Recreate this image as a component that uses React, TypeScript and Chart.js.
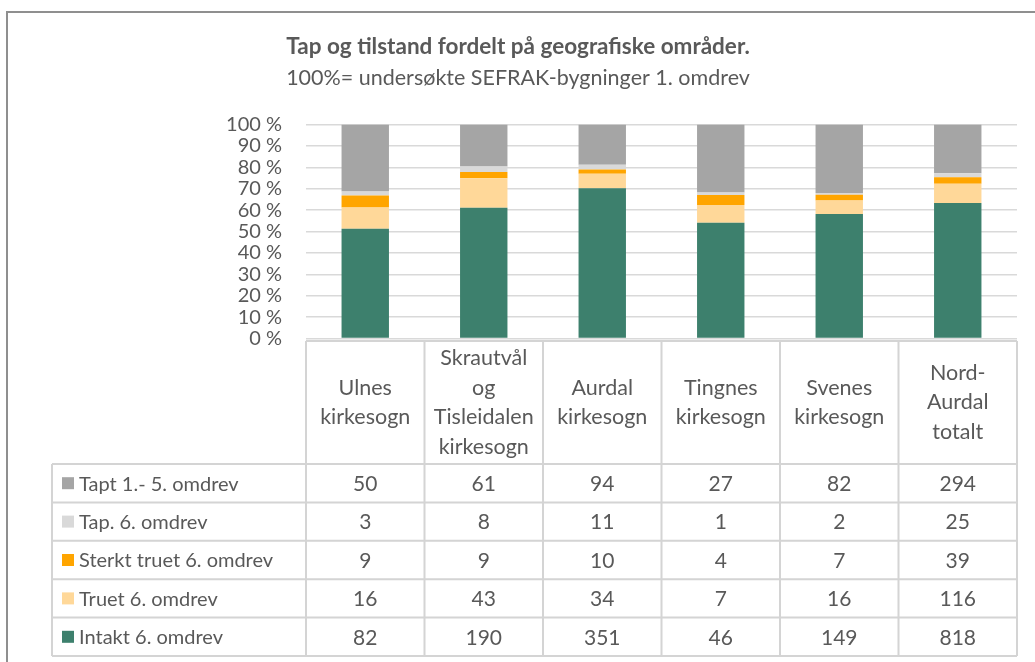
import React, { useEffect, useRef } from "react";
import { Chart, registerables } from "chart.js";
Chart.register(...registerables);

const titleText = "Tap og tilstand fordelt på geografiske områder.";
const subtitleText = "100%= undersøkte SEFRAK-bygninger 1. omdrev";

const categories: string[][] = [
  ["Ulnes", "kirkesogn"],
  ["Skrautvål", "og", "Tisleidalen", "kirkesogn"],
  ["Aurdal", "kirkesogn"],
  ["Tingnes", "kirkesogn"],
  ["Svenes", "kirkesogn"],
  ["Nord-", "Aurdal", "totalt"],
];

// counts per category
const intakt = [82, 190, 351, 46, 149, 818];
const truet = [16, 43, 34, 7, 16, 116];
const sterktTruet = [9, 9, 10, 4, 7, 39];
const tap6 = [3, 8, 11, 1, 2, 25];
const tapt15 = [50, 61, 94, 27, 82, 294];

const seriesNames = [
  "Intakt 6. omdrev",
  "Truet 6. omdrev",
  "Sterkt truet 6. omdrev",
  "Tap. 6. omdrev",
  "Tapt 1.- 5. omdrev",
];
const seriesColors = ["#3d806d", "#ffd899", "#ffa500", "#d9d9d9", "#a5a5a5"];
const seriesValues = [intakt, truet, sterktTruet, tap6, tapt15];

const yMax = 100;
const yStep = 10;

const FONT = "Lato, 'Noto Sans', sans-serif";
const TEXT = "#595959";

const totals = categories.map((_, i) =>
  seriesValues.reduce((s, arr) => s + arr[i], 0)
);

const tablePlugin = {
  id: "dataTable",
  afterDraw(chart: any) {
    const ctx: CanvasRenderingContext2D = chart.ctx;
    const area = chart.chartArea;
    const xs = chart.scales.x;
    const n = categories.length;
    const colW = (area.right - area.left) / n;
    const headerTop = area.bottom + 2.5;
    const headerBottom = 464;
    const rowH = 38.4;
    const tableLeft = 52;
    const rows = seriesNames.length;
    const tableBottom = headerBottom + rows * rowH;

    ctx.save();
    // outer frame
    ctx.strokeStyle = "#8f8f8f";
    ctx.lineWidth = 2;
    ctx.beginPath();
    ctx.moveTo(7, 700);
    ctx.lineTo(7, 12);
    ctx.lineTo(1100, 12);
    ctx.stroke();

    // titles
    ctx.fillStyle = "#595959";
    ctx.textAlign = "center";
    ctx.textBaseline = "middle";
    ctx.font = `bold 22.5px ${FONT}`;
    ctx.fillText(titleText, 518, 47);
    ctx.font = `21.5px ${FONT}`;
    ctx.fillText(subtitleText, 518, 78);

    // table grid
    ctx.strokeStyle = "#d4d4d4";
    ctx.lineWidth = 2;
    ctx.beginPath();
    ctx.moveTo(area.left, headerTop);
    ctx.lineTo(area.right, headerTop);
    for (let r = 0; r <= rows; r++) {
      const y = headerBottom + r * rowH;
      ctx.moveTo(tableLeft, y);
      ctx.lineTo(area.right, y);
    }
    ctx.moveTo(tableLeft, headerBottom);
    ctx.lineTo(tableLeft, tableBottom);
    for (let c = 0; c <= n; c++) {
      const x = area.left + c * colW;
      ctx.moveTo(x, headerTop);
      ctx.lineTo(x, tableBottom);
    }
    ctx.stroke();

    // header text
    ctx.fillStyle = TEXT;
    ctx.font = `21.5px ${FONT}`;
    ctx.textAlign = "center";
    ctx.textBaseline = "middle";
    const lineH = 29.5;
    const hMid = (headerTop + headerBottom) / 2;
    categories.forEach((lines, i) => {
      const cx = xs.getPixelForValue(i);
      const start = hMid - ((lines.length - 1) * lineH) / 2;
      lines.forEach((l, k) => ctx.fillText(l, cx, start + k * lineH));
    });

    // rows, top to bottom: reversed series order
    for (let r = 0; r < rows; r++) {
      const si = rows - 1 - r;
      const yMid = headerBottom + r * rowH + rowH / 2;
      ctx.fillStyle = seriesColors[si];
      ctx.fillRect(62, yMid - 6, 12, 12);
      ctx.fillStyle = TEXT;
      ctx.font = `20px ${FONT}`;
      ctx.textAlign = "left";
      ctx.fillText(seriesNames[si], 79, yMid + 1);
      ctx.font = `21px ${FONT}`;
      ctx.textAlign = "center";
      seriesValues[si].forEach((v, i) => {
        ctx.fillText(String(v), xs.getPixelForValue(i), yMid + 1);
      });
    }
    ctx.restore();
  },
};

export default function App() {
  const ref = useRef<HTMLCanvasElement>(null);
  useEffect(() => {
    if (!ref.current) return;
    const chart = new Chart(ref.current, {
      type: "bar",
      data: {
        labels: categories.map((c) => c.join(" ")),
        datasets: seriesNames.map((name, si) => ({
          label: name,
          data: seriesValues[si].map((v, i) => (v / totals[i]) * 100),
          backgroundColor: seriesColors[si],
          borderWidth: 0,
          categoryPercentage: 1,
          barPercentage: 0.4,
        })),
      },
      options: {
        responsive: false,
        animation: false,
        layout: { padding: { left: 0, right: 18, top: 124.5, bottom: 662 - 338.5 } },
        plugins: {
          legend: { display: false },
          title: { display: false },
          tooltip: { enabled: false },
        },
        scales: {
          x: { stacked: true, display: false },
          y: {
            stacked: true,
            min: 0,
            max: yMax,
            ticks: {
              stepSize: yStep,
              autoSkip: false,
              padding: 24,
              color: TEXT,
              font: { family: FONT, size: 20 },
              callback: (v: any) => `${v} %`,
            },
            grid: { color: "#d9d9d9", lineWidth: 1.5, drawTicks: false },
            border: { display: false },
            afterFit: (scale: any) => {
              scale.width = 306;
            },
          },
        },
      },
      plugins: [tablePlugin],
    });
    return () => chart.destroy();
  }, []);
  return (
    <div style={{ position: "fixed", left: 0, top: 0, width: 1035, height: 662, background: "#fff" }}>
      <canvas ref={ref} width={1035} height={662} />
    </div>
  );
}
